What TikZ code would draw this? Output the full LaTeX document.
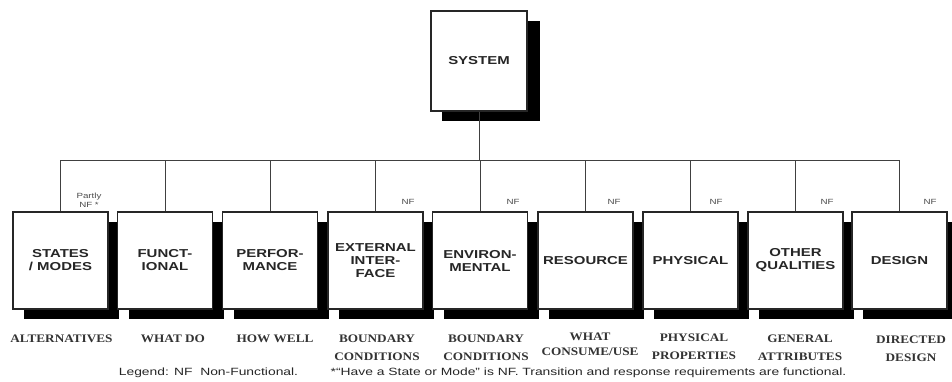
\documentclass[tikz,border=0pt]{standalone}
\usepackage{fontspec}
\usetikzlibrary{shadows,calc}
\newfontfamily\boxfont[FakeStretch=1.3]{Liberation Sans}
\newfontfamily\lblfont[FakeStretch=1.15]{Liberation Serif}
\newfontfamily\legfont[FakeStretch=1.32]{Liberation Sans}
\newfontfamily\tinyfont[FakeStretch=1.3]{Liberation Sans}
\begin{document}
\begin{tikzpicture}[x=1pt,y=-1pt,
  box/.style={draw=black!85, line width=1.1pt, fill=white, minimum width=95pt, minimum height=97pt,
    inner sep=0pt, align=center, font=\boxfont\bfseries\fontsize{11.5}{13}\selectfont, text=black!85,
    drop shadow={shadow xshift=11pt, shadow yshift=-10pt, fill=black, opacity=1}},
  sysbox/.style={box, minimum width=96pt, minimum height=100pt,
    drop shadow={shadow xshift=13pt, shadow yshift=-10pt, fill=black, opacity=1}},
  lbl/.style={inner sep=0pt, align=center, font=\lblfont\bfseries\fontsize{11.5}{18}\selectfont, text=black!80},
  nf/.style={inner sep=0pt, align=center, font=\tinyfont\fontsize{7.5}{9.3}\selectfont, text=black!70},
  leg/.style={inner sep=0pt, font=\legfont\fontsize{10.5}{12}\selectfont, text=black!85},
  wire/.style={draw=black!75, line width=0.9pt}]
\useasboundingbox (0,0) rectangle (952,381);
% top
\node[sysbox] (sys) at (479,61) {SYSTEM};
% boxes
\node[box] (b1) at (60.5,260.5) {STATES\\/ MODES};
\node[box] (b2) at (165,260.5) {FUNCT-\\IONAL};
\node[box] (b3) at (270,260.5) {PERFOR-\\MANCE};
\node[box] (b4) at (375.5,260.5) {EXTERNAL\\INTER-\\FACE};
\node[box] (b5) at (480,260.5) {ENVIRON-\\MENTAL};
\node[box] (b6) at (585.5,260.5) {RESOURCE};
\node[box] (b7) at (690.5,260.5) {PHYSICAL};
\node[box] (b8) at (795.5,260.5) {OTHER\\QUALITIES};
\node[box] (b9) at (899.5,260.5) {DESIGN};
% connectors
\coordinate (bus) at (0,160);
\draw[wire] (sys.south) -- (sys.south |- bus);
\draw[wire] (b1.north) -- (b1.north |- bus) -- (b9.north |- bus) -- (b9.north);
\foreach \i in {2,...,8} {\draw[wire] (b\i.north) -- (b\i.north |- bus);}
% NF marks
\node[nf] (p1) at (89,200.5) {Partly\\NF *};
\node[nf] (n4) at (408,202) {NF};
\node[nf] (n5) at (513,202) {NF};
\node[nf] (n6) at (614,202) {NF};
\node[nf] (n7) at (716,202) {NF};
\node[nf] (n8) at (827,202) {NF};
\node[nf] (n9) at (930,202) {NF};
% lower labels
\node[lbl] (l1) at (61.5,339) {ALTERNATIVES};
\node[lbl] (l2) at (173,339) {WHAT DO};
\node[lbl] (l3) at (275,339) {HOW WELL};
\node[lbl] (l4) at (377,348) {BOUNDARY\\CONDITIONS};
\node[lbl] (l5) at (486,348) {BOUNDARY\\CONDITIONS};
\node[lbl, font=\lblfont\bfseries\fontsize{11.5}{15}\selectfont] (l6) at (590,344.5) {WHAT\\CONSUME/USE};
\node[lbl] (l7) at (694,347) {PHYSICAL\\PROPERTIES};
\node[lbl] (l8) at (800,348) {GENERAL\\ATTRIBUTES};
\node[lbl] (l9) at (911,348.5) {DIRECTED\\DESIGN};
% legend
\node[leg] (g1) at (208.5,373) {Legend: NF\ \ Non-Functional.};
\node[leg] (g2) at (588.5,373) {*“Have a State or Mode” is NF. Transition and response requirements are functional.};
\end{tikzpicture}
\end{document}
